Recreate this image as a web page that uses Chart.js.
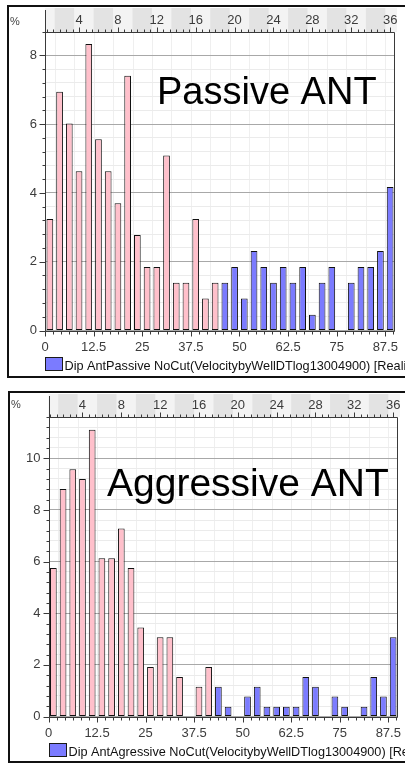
<!DOCTYPE html>
<html>
<head>
<meta charset="utf-8">
<title>Dip Ant velocity histograms</title>
<script src="https://cdn.jsdelivr.net/npm/chart.js@4.4.0/dist/chart.umd.min.js"></script>
<style>
	html, body { margin: 0; padding: 0; background: #fff; overflow: hidden; width: 405px; height: 765px; }
	.panel { position: absolute; border: 2px solid #111; border-right: none; background: #fff; overflow: hidden; }
	#panel0 { left: 7px; top: 5px; width: 400px; height: 369px; }
	#panel1 { left: 8px; top: 391px; width: 400px; height: 368px; }
	canvas { display: block; }
</style>
</head>
<body>
<div class="panel" id="panel0"><canvas id="canvas0" width="400" height="369"></canvas></div>
<div class="panel" id="panel1"><canvas id="canvas1" width="400" height="368"></canvas></div>

<script>
// 36 bins, 2.5 wide, covering 0..90 on the bottom axis
const binLabels = ['1', '2', '3', '4', '5', '6', '7', '8', '9', '10', '11', '12',
	'13', '14', '15', '16', '17', '18', '19', '20', '21', '22', '23', '24',
	'25', '26', '27', '28', '29', '30', '31', '32', '33', '34', '35', '36'];
const bottomTicks = [0, 12.5, 25, 37.5, 50, 62.5, 75, 87.5];
const topTicks = [4, 8, 12, 16, 20, 24, 28, 32, 36];

// Passive ANT, % of samples per bin
const passivePink = [3.24, 6.94, 6.02, 4.63, 8.33, 5.56, 4.63, 3.70, 7.41, 2.78, 1.85, 1.85,
	5.09, 1.39, 1.39, 3.24, 0.93, 1.39];
const passiveBlue = [1.39, 1.85, 0.93, 2.31, 1.85, 1.39, 1.85, 1.39, 1.85, 0.46, 1.39, 1.85,
	0, 1.39, 1.85, 1.85, 2.31, 4.17];

// Aggressive ANT, % of samples per bin
const aggressivePink = [5.75, 8.81, 9.58, 9.20, 11.11, 6.13, 6.13, 7.28, 5.75, 3.45, 1.92, 3.07,
	3.07, 1.53, 0, 1.15, 1.92];
const aggressiveBlue = [1.15, 0.38, 0, 0.77, 1.15, 0.38, 0.38, 0.38, 0.38, 1.53, 1.15, 0,
	0.77, 0.38, 0, 0.38, 1.53, 0.77, 3.07];

const FONT = '"Liberation Sans", Arial, sans-serif';
const PINK = '#ffc0cb';
const BLUE = '#7b7bff';

function isMajor(v) {
	return Math.abs(v / 2 - Math.round(v / 2)) < 1e-6;
}


/**
 * Band above the plot, faint column lines, frame, tick marks,
 * the big caption and the one-entry legend.
 */
const decor = {
	id: 'decor',
	beforeDraw(chart, args, o) {
		const ctx = chart.ctx;
		const area = chart.chartArea;
		const xb = chart.scales.xb;
		ctx.save();

		ctx.fillStyle = '#f3f3f3';
		ctx.fillRect(area.left, 1, area.right - area.left + 2, area.top - 1);
		ctx.fillStyle = '#e3e3e3';
		for (let v = 2.5; v < 90; v += 10) {
			const x0 = xb.getPixelForValue(v);
			const x1 = Math.min(xb.getPixelForValue(v + 5), area.right);
			ctx.fillRect(x0, 1, x1 - x0, area.top - 1);
		}

		ctx.strokeStyle = '#efefef';
		ctx.lineWidth = 1;
		ctx.beginPath();
		for (let v = 2.5; v < 90; v += 5) {
			const x = Math.round(xb.getPixelForValue(v)) + 0.5;
			ctx.moveTo(x, area.top);
			ctx.lineTo(x, area.bottom);
		}
		ctx.stroke();
		ctx.restore();
	},
	afterDraw(chart, args, o) {
		const ctx = chart.ctx;
		const area = chart.chartArea;
		const { y, xb, xt } = chart.scales;
		const L = Math.round(area.left) + 0.5;
		const R = Math.round(area.right) - 0.5;
		const T = Math.round(area.top) + 0.5;
		const B = Math.round(area.bottom) + 0.5;

		ctx.save();
		ctx.strokeStyle = '#3a3a3a';
		ctx.lineWidth = 1;
		ctx.beginPath();
		ctx.moveTo(L, 3);
		ctx.lineTo(L, B);
		ctx.lineTo(R, B);
		ctx.lineTo(R, T);
		ctx.moveTo(L, T);
		ctx.lineTo(R, T);

		y.ticks.forEach(t => {
			const py = Math.round(y.getPixelForValue(t.value)) + 0.5;
			const len = isMajor(t.value) ? 6 : 3;
			ctx.moveTo(L - len, py);
			ctx.lineTo(L, py);
		});

		for (let i = 0; i * 12.5 / 6 <= 90; i++) {
			const x = Math.round(xb.getPixelForValue(i * 12.5 / 6)) + 0.5;
			const len = i % 6 === 0 ? 5 : 3;
			ctx.moveTo(x, B);
			ctx.lineTo(x, B + len);
		}

		for (let i = -5; 4 + i * 2 / 3 <= 36.5; i++) {
			const v = 4 + i * 2 / 3;
			if (v < 0.5) continue;
			const x = Math.round(xt.getPixelForValue(v)) + 0.5;
			const len = i % 6 === 0 ? 5 : 3;
			ctx.moveTo(x, T);
			ctx.lineTo(x, T - len);
		}
		ctx.stroke();

		// unit in the corner
		ctx.fillStyle = '#444';
		ctx.font = '11px ' + FONT;
		ctx.textBaseline = 'alphabetic';
		ctx.fillText('%', 1, o.percentY);

		// caption
		ctx.fillStyle = '#000';
		ctx.font = o.titleSize + 'px ' + FONT;
		ctx.fillText(o.title, o.titleX, o.titleY);

		// legend: only the blue series is listed
		const bx = Math.round(area.left) + 0.5;
		const by = Math.round(area.bottom + 26.5) + 0.5;
		ctx.fillStyle = BLUE;
		ctx.fillRect(bx, by, 17, 13);
		ctx.strokeStyle = '#1a1a1a';
		ctx.strokeRect(bx, by, 17, 13);
		ctx.fillStyle = '#111';
		ctx.font = '12.7px ' + FONT;
		ctx.fillText(chart.data.datasets[1].label, bx + 19, by + 12.5);
		ctx.restore();
	}
};


/**
 * Draws one histogram panel.
 */
function drawHistogram(canvasId, panel) {
	const ctx = document.getElementById(canvasId).getContext('2d');
	const split = panel.pink.length;
	const pinkData = binLabels.map((b, i) => i < split ? panel.pink[i] : null);
	const blueData = binLabels.map((b, i) => i < split ? null : panel.blue[i - split]);
	const tickFont = { family: FONT, size: 13 };

	new Chart(ctx, {
		type: 'bar',
		data: {
			labels: binLabels,
			datasets: [{
				label: 'selected',
				data: pinkData,
				backgroundColor: PINK
			}, {
				label: panel.legend,
				data: blueData,
				backgroundColor: BLUE
			}]
		},
		options: {
			responsive: false,
			animation: false,
			layout: { padding: { left: 0, top: 0, right: panel.padRight, bottom: 0 } },
			datasets: {
				bar: {
					grouped: false,
					categoryPercentage: 1,
					barPercentage: 0.69,
					borderColor: '#111',
					borderWidth: 1,
					borderSkipped: false
				}
			},
			plugins: {
				legend: { display: false },
				tooltip: { enabled: false },
				decor: {
					title: panel.title,
					titleX: panel.titleX,
					titleY: panel.titleY,
					titleSize: panel.titleSize,
					percentY: panel.percentY
				}
			},
			scales: {
				x: { type: 'category', display: false, offset: true },
				xb: {
					type: 'linear',
					position: 'bottom',
					offset: false,
					min: 0,
					max: 90,
					afterBuildTicks: s => { s.ticks = bottomTicks.map(v => ({ value: v })); },
					ticks: { font: tickFont, color: '#3c3c3c', padding: 1, autoSkip: false, maxRotation: 0, callback: v => String(v) },
					grid: { display: false, offset: false },
					border: { display: false },
					afterFit: s => { s.height = panel.bottomH; s.paddingLeft = 0; s.paddingRight = 0; }
				},
				xt: {
					type: 'linear',
					position: 'top',
					offset: false,
					min: 0.5,
					max: 36.5,
					afterBuildTicks: s => { s.ticks = topTicks.map(v => ({ value: v })); },
					ticks: { font: tickFont, color: '#3c3c3c', padding: -4, autoSkip: false, maxRotation: 0, callback: v => String(v) },
					grid: { display: false, offset: false },
					border: { display: false },
					afterFit: s => { s.height = panel.topH; s.paddingLeft = 0; s.paddingRight = 0; }
				},
				y: {
					min: 0,
					max: panel.yMax,
					ticks: {
						stepSize: 0.4,
						autoSkip: false,
						font: tickFont,
						color: '#3c3c3c',
						padding: 8,
						callback: v => isMajor(v) ? String(Math.round(v)) : ''
					},
					grid: {
						drawTicks: false,
						color: c => isMajor(c.tick.value) ? '#a8a8a8' : '#ebebeb'
					},
					border: { display: false },
					afterFit: s => { s.width = panel.leftW; s.paddingTop = 0; s.paddingBottom = 0; }
				}
			}
		},
		plugins: [decor]
	});
}

window.addEventListener('load', () => {
	drawHistogram('canvas0', {
		pink: passivePink,
		blue: passiveBlue,
		yMax: 8.68,
		legend: 'Dip AntPassive NoCut(VelocitybyWellDTlog13004900) [Realization]',
		title: 'Passive ANT',
		titleX: 148, titleY: 97, titleSize: 38,
		percentY: 18,
		leftW: 36, topH: 25, bottomH: 45.5, padRight: 14
	});

	drawHistogram('canvas1', {
		pink: aggressivePink,
		blue: aggressiveBlue,
		yMax: 11.6,
		legend: 'Dip AntAgressive NoCut(VelocitybyWellDTlog13004900) [Realization]',
		title: 'Aggressive ANT',
		titleX: 97, titleY: 103, titleSize: 39,
		percentY: 15,
		leftW: 38.5, topH: 24, bottomH: 44.5, padRight: 12
	});
});
</script>
</body>
</html>
